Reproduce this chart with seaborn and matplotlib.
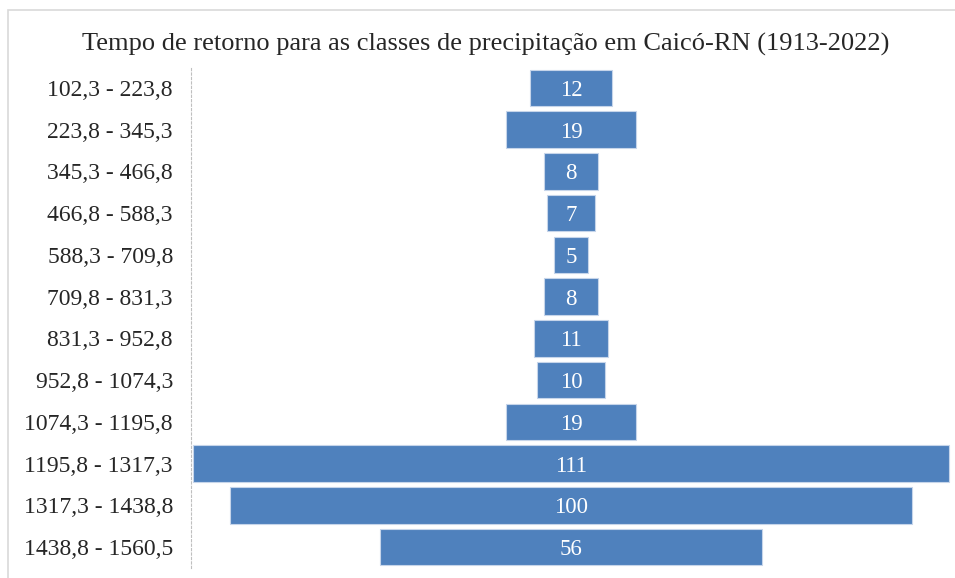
import matplotlib
matplotlib.use('Agg')
import matplotlib.pyplot as plt
import seaborn as sns
import pandas as pd
from matplotlib.patches import Rectangle

# Classes de precipitação (mm) e tempo de retorno
classes = ['102,3 - 223,8', '223,8 - 345,3', '345,3 - 466,8', '466,8 - 588,3',
           '588,3 - 709,8', '709,8 - 831,3', '831,3 - 952,8', '952,8 - 1074,3',
           '1074,3 - 1195,8', '1195,8 - 1317,3', '1317,3 - 1438,8', '1438,8 - 1560,5']
tempo = [12, 19, 8, 7, 5, 8, 11, 10, 19, 111, 100, 56]

df = pd.DataFrame({'classe': classes, 'tempo': tempo})

sns.set_style('white')
plt.rcParams['font.family'] = ['Liberation Serif', 'DejaVu Serif']

fig = plt.figure(figsize=(9.55, 5.78), dpi=100)
ax = fig.add_axes([191 / 955, 1 - 568 / 578, 760 / 955, 501 / 578])

sns.barplot(data=df, x='tempo', y='classe', orient='h', color='#4F81BD',
            saturation=1, width=0.87, edgecolor='#c6d5ea', linewidth=0.8, ax=ax)

# centre each bar on zero to get the funnel shape
for p, v in zip(ax.patches, tempo):
    p.set_x(-v / 2)
    ax.text(0, p.get_y() + p.get_height() / 2, str(v), color='white',
            ha='center', va='center_baseline', fontsize=16.5)

ax.set_xlim(-55.8, 55.8)
ax.set_ylim(11.5, -0.5)
ax.set_xlabel('')
ax.set_ylabel('')
ax.set_xticks([])
ax.tick_params(axis='y', length=0, labelsize=17, pad=13)
for s in ['top', 'right', 'bottom']:
    ax.spines[s].set_visible(False)
ax.spines['left'].set_color('#bfbfbf')
ax.spines['left'].set_linestyle((0, (2, 2)))
ax.spines['left'].set_linewidth(0.8)

fig.text(486 / 955, 1 - 42 / 578,
         'Tempo de retorno para as classes de precipitação em Caicó-RN (1913-2022)',
         ha='center', va='center_baseline', fontsize=19)

# light frame around the chart area
fig.patches.append(Rectangle((8 / 955, -0.05), 1.1, 1 - 10 / 578 + 0.05,
                             transform=fig.transFigure, fill=False,
                             edgecolor='#d9d9d9', linewidth=1.2))

fig.savefig('out.png', dpi=100)
